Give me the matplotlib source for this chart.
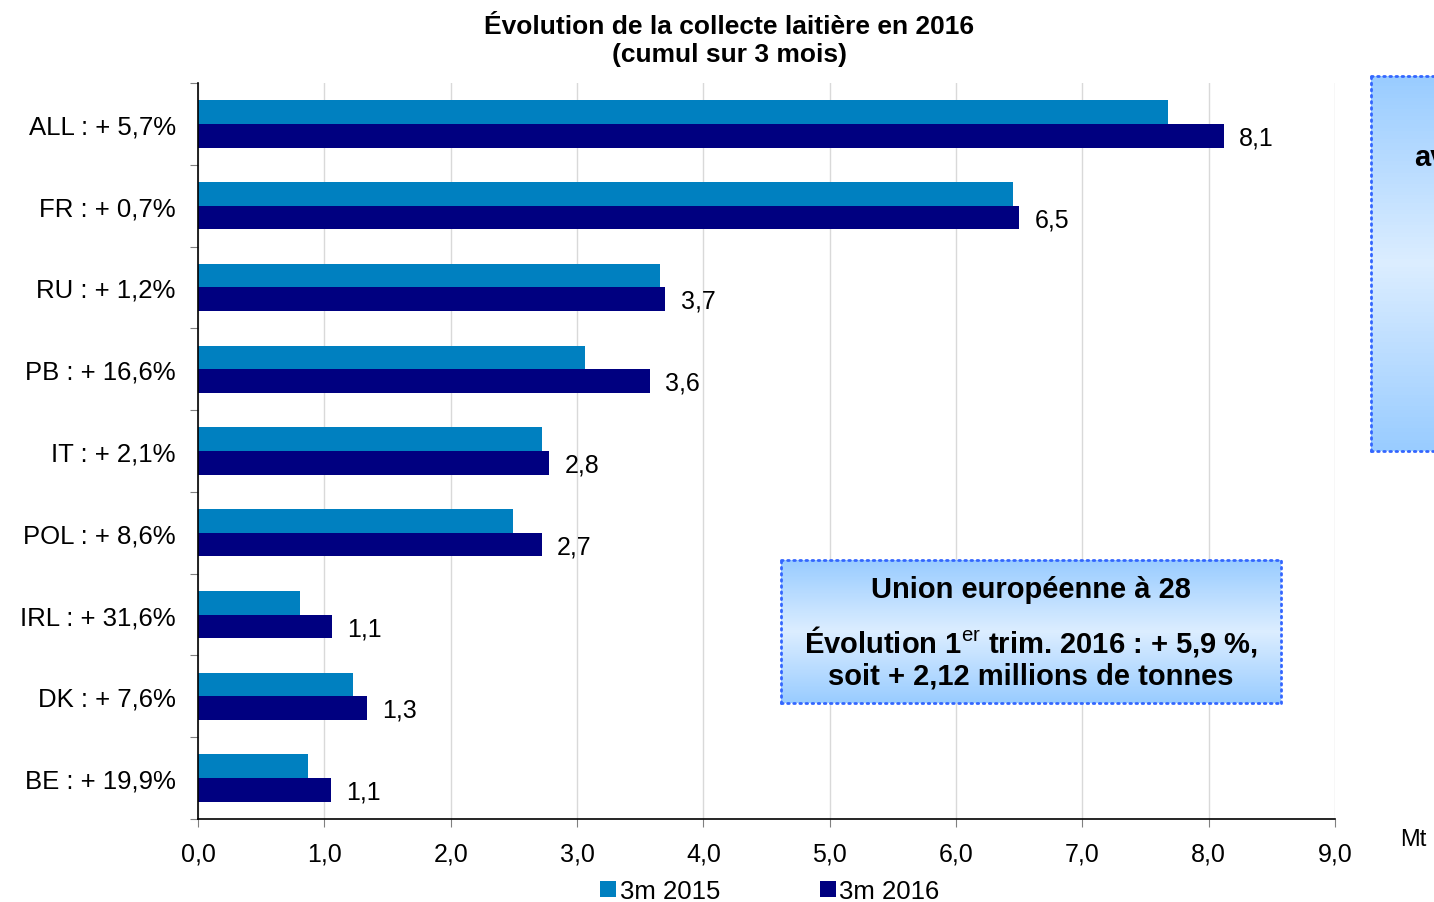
import numpy as np
import matplotlib
matplotlib.use("Agg")
import matplotlib.pyplot as plt

plt.rcParams["font.family"] = ["Liberation Sans", "DejaVu Sans"]
plt.rcParams["mathtext.fontset"] = "custom"
plt.rcParams["mathtext.rm"] = "Liberation Sans"
plt.rcParams["mathtext.bf"] = "Liberation Sans:bold"

# ---------------------------------------------------------------------------
# Data (million tonnes, cumulative over 3 months)
# ---------------------------------------------------------------------------
categories = ["ALL : + 5,7%", "FR : + 0,7%", "RU : + 1,2%", "PB : + 16,6%",
              "IT : + 2,1%", "POL : + 8,6%", "IRL : + 31,6%", "DK : + 7,6%",
              "BE : + 19,9%"]
vals_2015 = [7.68, 6.45, 3.66, 3.06, 2.72, 2.49, 0.81, 1.23, 0.87]
vals_2016 = [8.12, 6.50, 3.70, 3.58, 2.78, 2.72, 1.06, 1.34, 1.05]
labels_2016 = ["8,1", "6,5", "3,7", "3,6", "2,8", "2,7", "1,1", "1,3", "1,1"]
xticks = [0, 1, 2, 3, 4, 5, 6, 7, 8, 9]
xtick_labels = ["0,0", "1,0", "2,0", "3,0", "4,0", "5,0", "6,0", "7,0", "8,0", "9,0"]

c2015 = "#0080C0"
c2016 = "#000080"

W, H = 1434, 903
fig = plt.figure(figsize=(W / 100, H / 100), dpi=100)
ax = fig.add_axes([198 / W, 1 - 820 / H, (1335 - 198) / W, (820 - 84) / H])

n = len(categories)
y = np.arange(n)[::-1]  # top category at top
bh = 0.29
ax.barh(y + bh / 2, vals_2015, height=bh, color=c2015, label="3m 2015")
ax.barh(y - bh / 2, vals_2016, height=bh, color=c2016, label="3m 2016")

for yi, v, lab in zip(y, vals_2016, labels_2016):
    ax.text(v + 0.12, yi - bh / 2 - 0.02, lab, va="center", ha="left", fontsize=18)

ax.set_xlim(0, 9)
ax.set_ylim(-0.5, n - 0.5)
ax.set_xticks(xticks)
ax.set_xticklabels(xtick_labels, fontsize=18)
ax.set_yticks(np.arange(n + 1) - 0.5)
ax.set_yticklabels([])
ax.set_yticks(y, minor=True)
ax.set_yticklabels(categories, minor=True, fontsize=18.5)
ax.tick_params(axis="y", which="minor", length=0, pad=16)
ax.tick_params(axis="y", which="major", length=6, color="#808080")
ax.tick_params(axis="x", length=6, color="#808080", pad=10)
ax.grid(axis="x", color="#D9D9D9", linewidth=1)
ax.set_axisbelow(True)
for s in ["top", "right"]:
    ax.spines[s].set_visible(False)
ax.spines["left"].set_linewidth(1.2)
ax.spines["bottom"].set_linewidth(1.2)

fig.text(1413 / W, 1 - 840 / H, "Mt", fontsize=17, ha="center", va="center")

fig.text(729 / W, 1 - 41 / H, "Évolution de la collecte laitière en 2016\n(cumul sur 3 mois)",
         ha="center", va="center", fontsize=19, fontweight="bold", linespacing=1.25)

leg = fig.legend(loc="center", bbox_to_anchor=(770 / W, 1 - 892 / H), ncol=2, frameon=False,
                 fontsize=18.5, handlelength=0.6, handleheight=0.6, handletextpad=0.15,
                 columnspacing=3.9)

# gradient boxes
grad = np.concatenate([np.linspace(0, 1, 50), np.linspace(1, 0, 50)])
top_c = np.array([0.60, 0.80, 1.00])
mid_c = np.array([0.86, 0.93, 1.00])
img = top_c[None, :] + (mid_c - top_c)[None, :] * grad[:, None]
img = img[:, None, :]


def gradient_box(x0, y0, x1, y1):
    bx = fig.add_axes([x0 / W, 1 - y1 / H, (x1 - x0) / W, (y1 - y0) / H])
    bx.imshow(img, aspect="auto", extent=[0, 1, 0, 1])
    bx.set_xticks([])
    bx.set_yticks([])
    for s in bx.spines.values():
        s.set_edgecolor("#3366FF")
        s.set_linestyle((0, (0.6, 1.6)))
        s.set_capstyle("round")
        s.set_linewidth(2.0)
    return bx


bx = gradient_box(781, 561, 1281, 704)
bx.text(0.5, 0.80, "Union européenne à 28", ha="center", va="center",
        fontsize=21, fontweight="bold", transform=bx.transAxes)
bx.text(0.5, 0.44, r"Évolution 1$^{\mathrm{er}}$ trim. 2016 : + 5,9 %,", ha="center",
        va="center", fontsize=21, fontweight="bold", transform=bx.transAxes)
bx.text(0.5, 0.19, "soit + 2,12 millions de tonnes", ha="center", va="center",
        fontsize=21, fontweight="bold", transform=bx.transAxes)

rx = gradient_box(1371, 77, 1460, 452)
rx.text(43 / 89, 1 - (158 - 77) / 375, "av", ha="left", va="center",
        fontsize=21, fontweight="bold", transform=rx.transAxes)

fig.savefig("out.png", dpi=100)
